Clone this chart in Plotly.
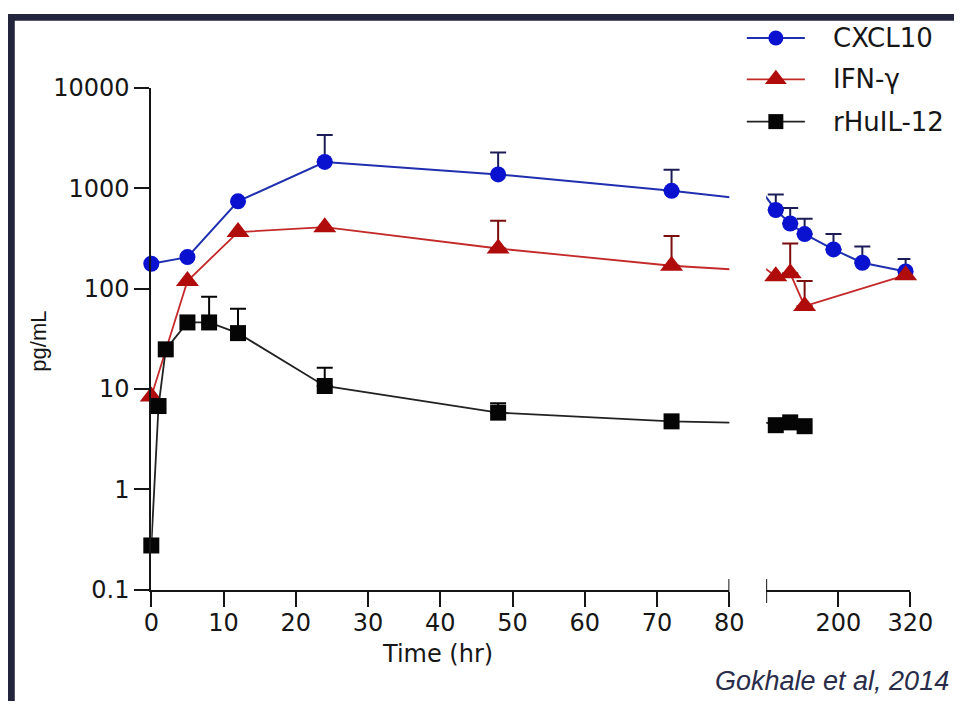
import plotly.graph_objects as go

W, H = 977, 715

# ---- data (hours after dosing, pg/mL, upper SD) ----
cxcl10_t = [0, 5, 12, 24, 48, 72, 96, 120, 144, 192, 240, 312]
cxcl10_v = [177, 206, 741, 1830, 1375, 944, 608, 446, 350, 246, 181, 148]
cxcl10_err = [None, None, None, 1560, 900, 590, 257, 190, 148, 104, 82, 49]

ifng_t = [0, 5, 12, 24, 48, 72, 96, 120, 144, 312]
ifng_v = [8.4, 119, 366, 410, 251, 169, 133, 142, 67, 136]
ifng_err = [None, None, None, None, 225, 166, None, 139, 52, None]

il12_t = [0, 1, 2, 5, 8, 12, 24, 48, 72, 96, 120, 144]
il12_v = [0.275, 6.75, 24.8, 46, 46, 36, 10.7, 5.8, 4.75, 4.35, 4.64, 4.25]
il12_err = [None, None, None, None, 37, 27, 5.6, 1.4, None, None, None, None]

x_ticks_early = [0, 10, 20, 30, 40, 50, 60, 70, 80]
x_ticks_late = [200, 320]
y_ticks = [0.1, 1, 10, 100, 1000, 10000]
y_ticktext = ["0.1", "1", "10", "100", "1000", "10000"]

# ---- layout geometry (pixels) ----
LEFT, BREAK_L, BREAK_R, RIGHT = 148, 745, 783, 932
TOP, BOTTOM = 77, 599
EARLY_RANGE = [0, 80]
LATE_RANGE = [80, 320]


def fx(p):
    return p / W


def fy(p):
    return 1 - p / H


NAVY = "#22253b"
TXT = "#161616"
TICK_FONT = dict(family="DejaVu Sans", size=24, color=TXT)

series = [
    dict(name="CXCL10", t=cxcl10_t, v=cxcl10_v, e=cxcl10_err, symbol="circle",
         size=16, mcolor="#0a12cf", lcolor="#1f2fb0", lw=2, ecolor="#1c1c56"),
    dict(name="IFN-\u03b3", t=ifng_t, v=ifng_v, e=ifng_err, symbol="triangle-up",
         size=20, mcolor="#b00c0c", lcolor="#c42a2a", lw=1.8, ecolor="#7a0d0d"),
    dict(name="rHuIL-12", t=il12_t, v=il12_v, e=il12_err, symbol="square",
         size=16, mcolor="#050505", lcolor="#222222", lw=1.8, ecolor="#050505"),
]

fig = go.Figure()

for s in series:
    for xa, (lo, hi), late in (("x", EARLY_RANGE, False), ("x2", LATE_RANGE, True)):
        # connecting line over the full time course, clipped to this segment
        fig.add_trace(go.Scatter(
            x=s["t"], y=s["v"], mode="lines", xaxis=xa, yaxis="y",
            line=dict(color=s["lcolor"], width=s["lw"]),
            showlegend=False, hoverinfo="skip"))
        if late:
            idx = [i for i, t in enumerate(s["t"]) if lo < t <= hi]
        else:
            idx = [i for i, t in enumerate(s["t"]) if lo <= t <= hi]
        with_err = [i for i in idx if s["e"][i] is not None]
        no_err = [i for i in idx if s["e"][i] is None]
        marker = dict(symbol=s["symbol"], size=s["size"], color=s["mcolor"],
                      line=dict(width=0))
        if with_err:
            fig.add_trace(go.Scatter(
                x=[s["t"][i] for i in with_err], y=[s["v"][i] for i in with_err],
                mode="markers", xaxis=xa, yaxis="y", marker=marker,
                error_y=dict(type="data", symmetric=False,
                             array=[s["e"][i] for i in with_err],
                             arrayminus=[0] * len(with_err),
                             color=s["ecolor"], thickness=2, width=8),
                cliponaxis=False, showlegend=False, name=s["name"]))
        if no_err:
            fig.add_trace(go.Scatter(
                x=[s["t"][i] for i in no_err], y=[s["v"][i] for i in no_err],
                mode="markers", xaxis=xa, yaxis="y", marker=marker,
                cliponaxis=False, showlegend=False, name=s["name"]))

# ---- custom legend drawn on a full-page helper axis ----
LEG_X0, LEG_X1, LEG_TEXT_X = 763, 823, 850
LEG_ROWS = [25, 68, 112]
annotations = []
for s, ry in zip(series, LEG_ROWS):
    fig.add_trace(go.Scatter(
        x=[LEG_X0, (LEG_X0 + LEG_X1) / 2, LEG_X1], y=[ry, ry, ry],
        mode="lines+markers", xaxis="x3", yaxis="y3",
        line=dict(color=s["lcolor"], width=s["lw"]),
        marker=dict(symbol=s["symbol"], size=[0, s["size"] - 1, 0], color=s["mcolor"],
                    opacity=1, line=dict(width=0)),
        showlegend=False, hoverinfo="skip", cliponaxis=False))
    annotations.append(dict(
        x=LEG_TEXT_X, y=ry, xref="x3", yref="y3", text=s["name"], showarrow=False,
        xanchor="left", yanchor="middle", font=dict(family="DejaVu Sans", size=26, color=TXT)))

# axis titles and source note
annotations += [
    dict(x=fx(32), y=fy(340), xref="paper", yref="paper", text="pg/mL", textangle=-90,
         showarrow=False, xanchor="center", yanchor="middle",
         font=dict(family="Liberation Sans", size=22, color=TXT)),
    dict(x=fx(444), y=fy(666), xref="paper", yref="paper", text="Time (hr)",
         showarrow=False, xanchor="center", yanchor="middle",
         font=dict(family="DejaVu Sans", size=24, color=TXT)),
    dict(x=fx(974), y=fy(694), xref="paper", yref="paper",
         text="<i>Gokhale et al, 2014</i>", showarrow=False,
         xanchor="right", yanchor="middle",
         font=dict(family="Liberation Sans", size=27, color="#2a2d4a")),
]

shapes = [
    # dark frame along the top and left edges
    dict(type="rect", xref="paper", yref="paper", x0=0, x1=1, y0=fy(7), y1=1,
         fillcolor=NAVY, line=dict(width=0), layer="below"),
    dict(type="rect", xref="paper", yref="paper", x0=0, x1=fx(7), y0=0, y1=1,
         fillcolor=NAVY, line=dict(width=0), layer="below"),
]
# axis break marks
for xr, xv in (("x", EARLY_RANGE[1]), ("x2", LATE_RANGE[0])):
    shapes.append(dict(type="line", xref=xr, yref="paper", x0=xv, x1=xv,
                       y0=fy(BOTTOM + 14), y1=fy(BOTTOM - 11),
                       line=dict(color=TXT, width=2)))

axis_common = dict(showline=True, linecolor=TXT, linewidth=2, ticks="outside",
                   ticklen=15, tickwidth=2, tickcolor=TXT, showgrid=False,
                   zeroline=False, tickfont=TICK_FONT, fixedrange=True)

fig.update_layout(
    width=W, height=H,
    margin=dict(l=0, r=0, t=0, b=0),
    paper_bgcolor="white", plot_bgcolor="rgba(0,0,0,0)",
    showlegend=False,
    xaxis=dict(domain=[fx(LEFT), fx(BREAK_L)], range=EARLY_RANGE, anchor="y",
               tickvals=x_ticks_early, ticklabelstandoff=-4, **axis_common),
    xaxis2=dict(domain=[fx(BREAK_R), fx(RIGHT)], range=LATE_RANGE, anchor="y",
                tickvals=x_ticks_late, ticklabelstandoff=-4, **axis_common),
    yaxis=dict(domain=[fy(BOTTOM), fy(TOP)], type="log", range=[-1, 4], anchor="x",
               tickvals=y_ticks, ticktext=y_ticktext, **axis_common),
    xaxis3=dict(domain=[0, 1], range=[0, W], anchor="y3", visible=False, fixedrange=True),
    yaxis3=dict(domain=[0, 1], range=[H, 0], anchor="x3", visible=False, fixedrange=True),
    annotations=annotations,
    shapes=shapes,
)

fig.write_html("out.html")
